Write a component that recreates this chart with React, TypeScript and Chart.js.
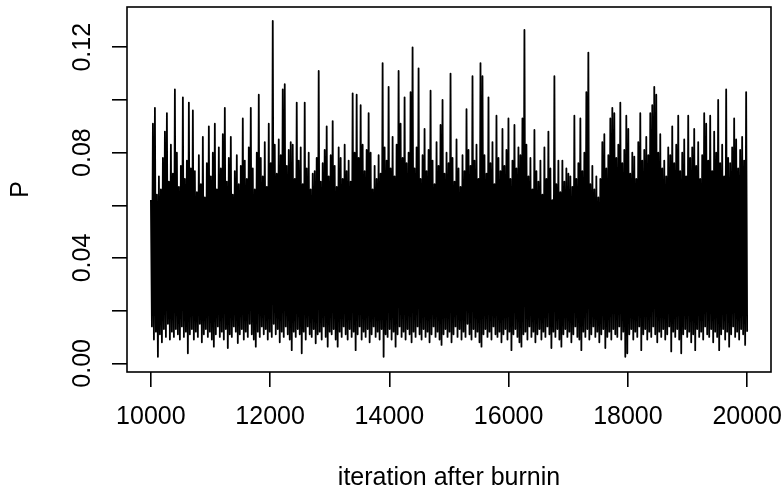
import React, { useEffect, useRef } from "react";
import { Chart, registerables } from "chart.js";

Chart.register(...registerables);

// Trace of P, read per ~2px column of the reference: upper and lower extent of the black band
const traceTop: number[] = [
  0.062, 0.091, 0.097, 0.064, 0.071, 0.066, 0.078, 0.088, 0.095, 0.069,
  0.083, 0.072, 0.104, 0.080, 0.067, 0.075, 0.101, 0.070, 0.077, 0.099,
  0.074, 0.096, 0.073, 0.065, 0.079, 0.068, 0.086, 0.063, 0.076, 0.090,
  0.071, 0.080, 0.091, 0.066, 0.082, 0.074, 0.087, 0.097, 0.069, 0.078,
  0.086, 0.064, 0.073, 0.079, 0.068, 0.075, 0.093, 0.077, 0.070, 0.082,
  0.097, 0.074, 0.066, 0.080, 0.102, 0.078, 0.071, 0.084, 0.067, 0.091,
  0.076, 0.130, 0.083, 0.072, 0.085, 0.079, 0.104, 0.106, 0.075, 0.081,
  0.084, 0.083, 0.070, 0.099, 0.077, 0.082, 0.068, 0.099, 0.074, 0.080,
  0.066, 0.072, 0.073, 0.078, 0.111, 0.069, 0.076, 0.081, 0.090, 0.071,
  0.079, 0.092, 0.075, 0.067, 0.082, 0.078, 0.070, 0.083, 0.073, 0.077,
  0.069, 0.1025, 0.080, 0.102, 0.078, 0.098, 0.083, 0.073, 0.081, 0.095,
  0.080, 0.066, 0.075, 0.070, 0.079, 0.072, 0.114, 0.082, 0.077, 0.105,
  0.074, 0.086, 0.071, 0.083, 0.111, 0.091, 0.078, 0.101, 0.076, 0.080,
  0.103, 0.120, 0.074, 0.082, 0.112, 0.070, 0.079, 0.089, 0.073, 0.081,
  0.1035, 0.077, 0.068, 0.084, 0.075, 0.0905, 0.100, 0.072, 0.080, 0.076,
  0.110, 0.078, 0.069, 0.085, 0.074, 0.067, 0.079, 0.073, 0.0965, 0.081,
  0.075, 0.109, 0.077, 0.083, 0.070, 0.114, 0.109, 0.079, 0.072, 0.101,
  0.076, 0.084, 0.068, 0.094, 0.078, 0.073, 0.089, 0.075, 0.081, 0.093,
  0.070, 0.077, 0.0905, 0.074, 0.082, 0.079, 0.093, 0.1266, 0.083, 0.071,
  0.078, 0.066, 0.0886, 0.073, 0.069, 0.077, 0.064, 0.082, 0.070, 0.088,
  0.074, 0.062, 0.109, 0.068, 0.077, 0.065, 0.077, 0.069, 0.074, 0.072,
  0.071, 0.067, 0.094, 0.070, 0.076, 0.093, 0.073, 0.080, 0.103, 0.118,
  0.068, 0.075, 0.066, 0.071, 0.063, 0.070, 0.084, 0.087, 0.074, 0.079,
  0.093, 0.097, 0.095, 0.078, 0.083, 0.099, 0.076, 0.081, 0.094, 0.089,
  0.072, 0.080, 0.0785, 0.070, 0.084, 0.095, 0.077, 0.081, 0.086, 0.079,
  0.095, 0.098, 0.105, 0.102, 0.080, 0.087, 0.074, 0.077, 0.071, 0.082,
  0.079, 0.090, 0.076, 0.083, 0.094, 0.073, 0.080, 0.085, 0.071, 0.094,
  0.078, 0.082, 0.089, 0.075, 0.084, 0.070, 0.079, 0.095, 0.091, 0.077,
  0.094, 0.073, 0.088, 0.080, 0.100, 0.076, 0.083, 0.071, 0.104, 0.078,
  0.076, 0.082, 0.093, 0.085, 0.074, 0.081, 0.086, 0.077, 0.103,
];

const traceBottom: number[] = [
  0.014, 0.009, 0.012, 0.0025, 0.011, 0.008, 0.013, 0.010, 0.015, 0.009,
  0.012, 0.010, 0.013, 0.011, 0.009, 0.014, 0.010, 0.012, 0.0038, 0.011,
  0.013, 0.009, 0.012, 0.010, 0.015, 0.008, 0.011, 0.013, 0.010, 0.012,
  0.009, 0.0063, 0.011, 0.014, 0.010, 0.012, 0.009, 0.013, 0.0058, 0.011,
  0.010, 0.014, 0.012, 0.0077, 0.011, 0.013, 0.009, 0.012, 0.010, 0.015,
  0.011, 0.009, 0.0063, 0.012, 0.010, 0.014, 0.011, 0.013, 0.009, 0.012,
  0.010, 0.015, 0.011, 0.013, 0.008, 0.012, 0.010, 0.014, 0.011, 0.009,
  0.005, 0.012, 0.010, 0.013, 0.011, 0.0038, 0.012, 0.009, 0.014, 0.011,
  0.010, 0.013, 0.0076, 0.011, 0.012, 0.009, 0.014, 0.010, 0.0063, 0.012,
  0.011, 0.013, 0.009, 0.0063, 0.012, 0.010, 0.014, 0.011, 0.009, 0.013,
  0.010, 0.012, 0.005, 0.011, 0.014, 0.009, 0.012, 0.010, 0.013, 0.008,
  0.011, 0.014, 0.010, 0.012, 0.009, 0.013, 0.0025, 0.011, 0.010, 0.013,
  0.009, 0.012, 0.0063, 0.011, 0.014, 0.010, 0.012, 0.009, 0.013, 0.011,
  0.008, 0.012, 0.010, 0.014, 0.011, 0.009, 0.013, 0.010, 0.012, 0.008,
  0.011, 0.014, 0.010, 0.012, 0.009, 0.007, 0.011, 0.013, 0.010, 0.012,
  0.008, 0.011, 0.014, 0.010, 0.013, 0.009, 0.012, 0.010, 0.015, 0.011,
  0.009, 0.013, 0.010, 0.012, 0.008, 0.0063, 0.011, 0.013, 0.010, 0.012,
  0.009, 0.014, 0.011, 0.010, 0.012, 0.008, 0.011, 0.013, 0.009, 0.012,
  0.005, 0.011, 0.013, 0.010, 0.008, 0.0063, 0.011, 0.012, 0.009, 0.014,
  0.010, 0.012, 0.008, 0.011, 0.013, 0.009, 0.012, 0.010, 0.014, 0.011,
  0.0058, 0.012, 0.010, 0.013, 0.009, 0.0063, 0.011, 0.013, 0.010, 0.012,
  0.008, 0.011, 0.014, 0.010, 0.009, 0.005, 0.012, 0.010, 0.013, 0.009,
  0.011, 0.014, 0.010, 0.012, 0.008, 0.011, 0.013, 0.0058, 0.010, 0.012,
  0.009, 0.013, 0.011, 0.010, 0.014, 0.009, 0.012, 0.0025, 0.0038, 0.011,
  0.013, 0.009, 0.012, 0.010, 0.014, 0.005, 0.011, 0.013, 0.009, 0.012,
  0.010, 0.014, 0.011, 0.008, 0.012, 0.010, 0.013, 0.009, 0.011, 0.014,
  0.0045, 0.012, 0.010, 0.013, 0.009, 0.0038, 0.011, 0.013, 0.010, 0.012,
  0.008, 0.011, 0.005, 0.013, 0.010, 0.012, 0.009, 0.014, 0.011, 0.010,
  0.013, 0.008, 0.012, 0.010, 0.005, 0.011, 0.013, 0.009, 0.012, 0.0063,
  0.011, 0.014, 0.010, 0.012, 0.009, 0.013, 0.011, 0.007, 0.012,
];

const iterFirst = 10001;
const iterLast = 20000;

const xTicks: number[] = [10000, 12000, 14000, 16000, 18000, 20000];
const yTicks: number[] = [0, 0.02, 0.04, 0.06, 0.08, 0.1, 0.12];
const yTickLabels: string[] = ["0.00", "", "0.04", "", "0.08", "", "0.12"];

const xTitle = "iteration after burnin";
const yTitle = "P";

const FONT = "'Liberation Sans', Arial, Helvetica, sans-serif";

export default function App() {
  const ref = useRef<HTMLCanvasElement | null>(null);

  useEffect(() => {
    const canvas = ref.current;
    if (!canvas) return;

    const values: number[] = [];
    for (let k = 0; k < traceTop.length; k++) {
      values.push(traceTop[k]);
      values.push(traceBottom[k]);
    }
    const n = values.length;
    const points = values.map((v, j) => ({
      x: iterFirst + (j * (iterLast - iterFirst)) / (n - 1),
      y: v,
    }));

    const boxPlugin = {
      id: "rbox",
      afterDatasetsDraw(chart: any) {
        const { ctx, chartArea } = chart;
        ctx.save();
        ctx.strokeStyle = "#000";
        ctx.lineWidth = 1.6;
        ctx.strokeRect(
          chartArea.left,
          chartArea.top,
          chartArea.right - chartArea.left,
          chartArea.bottom - chartArea.top
        );
        ctx.restore();
      },
    };

    const chart = new Chart(canvas, {
      type: "line",
      data: {
        datasets: [
          {
            data: points,
            borderColor: "#000",
            borderWidth: 1.8,
            borderJoinStyle: "round",
            pointRadius: 0,
            tension: 0,
            fill: false,
          },
        ],
      },
      options: {
        animation: false,
        responsive: false,
        devicePixelRatio: 1,
        parsing: false,
        normalized: true,
        layout: { padding: { top: 7, right: 13, left: 0, bottom: 0 } },
        plugins: {
          legend: { display: false },
          tooltip: { enabled: false },
        },
        scales: {
          x: {
            type: "linear",
            position: "bottom",
            min: 9600,
            max: 20400,
            afterBuildTicks: (s: any) => {
              s.ticks = xTicks.map((v) => ({ value: v }));
            },
            afterFit: (s: any) => {
              s.height = 126;
              s.paddingLeft = 0;
              s.paddingRight = 0;
              s.paddingTop = 0;
              s.paddingBottom = 0;
            },
            ticks: {
              autoSkip: false,
              maxRotation: 0,
              minRotation: 0,
              padding: 15.5,
              color: "#000",
              font: { family: FONT, size: 25 },
              callback: (v: any) => String(v),
            },
            grid: {
              display: true,
              drawOnChartArea: false,
              drawTicks: true,
              tickLength: 15,
              color: "#000",
              lineWidth: 1.6,
            },
            border: { display: false },
            title: {
              display: true,
              text: xTitle,
              color: "#000",
              font: { family: FONT, size: 25 },
              padding: { top: 0, bottom: 4.4 },
            },
          },
          y: {
            type: "linear",
            position: "left",
            min: -0.0033,
            max: 0.1353,
            afterBuildTicks: (s: any) => {
              s.ticks = yTicks.map((v) => ({ value: v }));
            },
            afterFit: (s: any) => {
              s.width = 127;
              s.paddingLeft = 0;
              s.paddingRight = 0;
              s.paddingTop = 0;
              s.paddingBottom = 0;
            },
            ticks: {
              autoSkip: false,
              minRotation: 90,
              maxRotation: 90,
              crossAlign: "center",
              padding: 4.8,
              color: "#000",
              font: { family: FONT, size: 25 },
              callback: (v: any) => {
                const i = yTicks.findIndex((t) => Math.abs(t - v) < 1e-9);
                return i >= 0 ? yTickLabels[i] : "";
              },
            },
            grid: {
              display: true,
              drawOnChartArea: false,
              drawTicks: true,
              tickLength: 15,
              color: "#000",
              lineWidth: 1.6,
            },
            border: { display: false },
            title: {
              display: true,
              text: yTitle,
              color: "#000",
              font: { family: FONT, size: 25 },
              padding: { top: 6.5, bottom: 0 },
            },
          },
        },
      },
      plugins: [boxPlugin],
    } as any);

    return () => chart.destroy();
  }, []);

  return (
    <div
      style={{
        position: "fixed",
        left: 0,
        top: 0,
        width: 784,
        height: 498,
        background: "#fff",
      }}
    >
      <canvas ref={ref} width={784} height={498} style={{ display: "block" }} />
    </div>
  );
}
